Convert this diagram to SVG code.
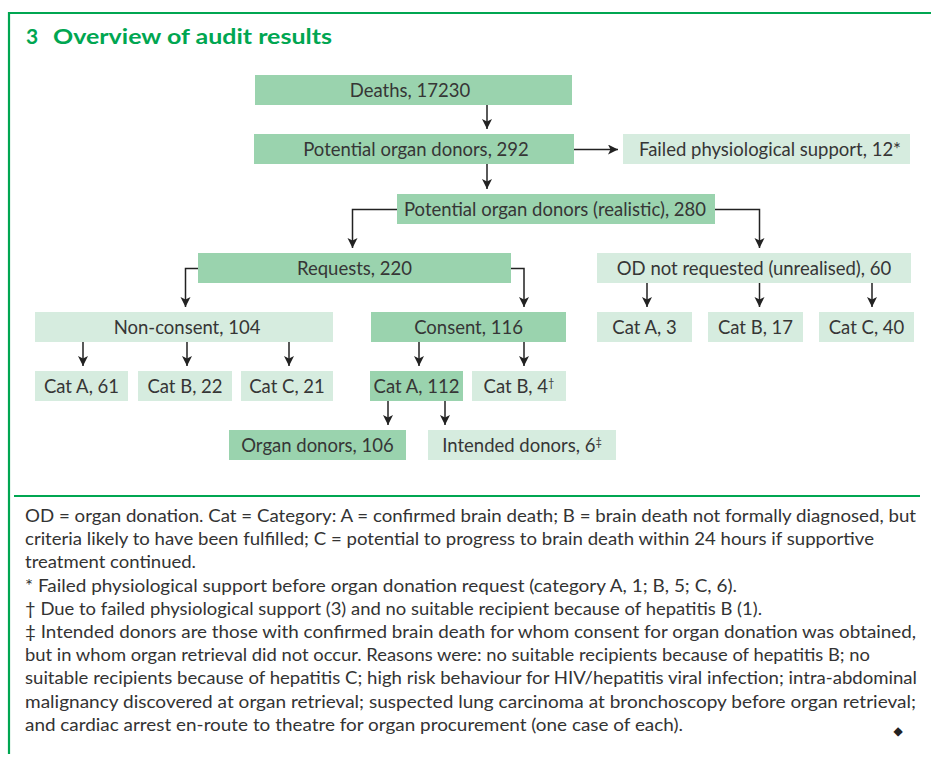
<svg xmlns="http://www.w3.org/2000/svg" width="931" height="758" viewBox="0 0 931 758">
<defs>
<style>
.dk{fill:#9ad3ae}
.lt{fill:#d6ecdf}
.lbl{font-family:Lato,"Open Sans","Liberation Sans",sans-serif;font-size:18.5px;fill:#363636;text-anchor:middle}
.sup{font-size:11px}
.fn{font-family:Lato,"Open Sans","Liberation Sans",sans-serif;font-size:16.5px;fill:#333}
.con{fill:none;stroke:#222;stroke-width:1.5}
.frame{fill:none;stroke:#00a651;stroke-width:2.2}
</style>
<marker id="ah" markerUnits="userSpaceOnUse" markerWidth="11" markerHeight="11" refX="10" refY="5" orient="auto">
<path d="M0,0 L10,5 L0,10 L2.5,5 Z" fill="#222"/>
</marker>
</defs>
<rect width="931" height="758" fill="#fff"/>
<path class="frame" d="M9,754 V13 H931"/>
<text x="26" y="44" font-family="Lato,'Open Sans','Liberation Sans',sans-serif" font-weight="bold" font-size="21" fill="#00a651">3</text>
<text x="53" y="44" font-family="Lato,'Open Sans','Liberation Sans',sans-serif" font-weight="bold" font-size="21" fill="#00a651" textLength="279" lengthAdjust="spacingAndGlyphs">Overview of audit results</text>

<g id="connectors">
<path class="con" marker-end="url(#ah)" d="M487,105 V129"/>
<path class="con" marker-end="url(#ah)" d="M574,149.5 H618"/>
<path class="con" marker-end="url(#ah)" d="M487,164 V189"/>
<path class="con" marker-end="url(#ah)" d="M397,209.5 H352.5 V248"/>
<path class="con" marker-end="url(#ah)" d="M715,209.5 H759.5 V248"/>
<path class="con" marker-end="url(#ah)" d="M198,268.5 H185.5 V307"/>
<path class="con" marker-end="url(#ah)" d="M511,268.5 H524 V307"/>
<path class="con" marker-end="url(#ah)" d="M647,283 V307"/>
<path class="con" marker-end="url(#ah)" d="M759.5,283 V307"/>
<path class="con" marker-end="url(#ah)" d="M872,283 V307"/>
<path class="con" marker-end="url(#ah)" d="M83,342 V366"/>
<path class="con" marker-end="url(#ah)" d="M187,342 V366"/>
<path class="con" marker-end="url(#ah)" d="M289,342 V366"/>
<path class="con" marker-end="url(#ah)" d="M419,342 V366"/>
<path class="con" marker-end="url(#ah)" d="M524,342 V366"/>
<path class="con" marker-end="url(#ah)" d="M388,401 V425"/>
<path class="con" marker-end="url(#ah)" d="M445,401 V425"/>
</g>

<g id="deaths"><rect class="dk" x="255" y="75" width="317" height="30"/><text class="lbl" x="410" y="96.5">Deaths, 17230</text></g>
<g id="potential"><rect class="dk" x="254" y="134" width="320" height="30"/><text class="lbl" x="416" y="156">Potential organ donors, 292</text></g>
<g id="failed"><rect class="lt" x="623" y="134" width="287" height="30"/><text class="lbl" x="770" y="156">Failed physiological support, 12*</text></g>
<g id="realistic"><rect class="dk" x="397" y="194" width="318" height="30"/><text class="lbl" x="555" y="216">Potential organ donors (realistic), 280</text></g>
<g id="requests"><rect class="dk" x="198" y="253" width="313" height="30"/><text class="lbl" x="354.5" y="275">Requests, 220</text></g>
<g id="notrequested"><rect class="lt" x="597" y="253" width="314" height="30"/><text class="lbl" x="754" y="275">OD not requested (unrealised), 60</text></g>
<g id="nr-cat-a"><rect class="lt" x="597" y="312" width="95" height="30"/><text class="lbl" x="644.5" y="334">Cat A, 3</text></g>
<g id="nr-cat-b"><rect class="lt" x="708" y="312" width="95" height="30"/><text class="lbl" x="755.5" y="334">Cat B, 17</text></g>
<g id="nr-cat-c"><rect class="lt" x="819" y="312" width="95" height="30"/><text class="lbl" x="866.5" y="334">Cat C, 40</text></g>
<g id="nonconsent"><rect class="lt" x="35" y="312" width="298" height="30"/><text class="lbl" x="187" y="334">Non-consent, 104</text></g>
<g id="consent"><rect class="dk" x="371" y="312" width="195" height="30"/><text class="lbl" x="468.5" y="334">Consent, 116</text></g>
<g id="nc-cat-a"><rect class="lt" x="35" y="371" width="93" height="30"/><text class="lbl" x="81.5" y="393">Cat A, 61</text></g>
<g id="nc-cat-b"><rect class="lt" x="138" y="371" width="94" height="30"/><text class="lbl" x="185" y="393">Cat B, 22</text></g>
<g id="nc-cat-c"><rect class="lt" x="241" y="371" width="92" height="30"/><text class="lbl" x="287" y="393">Cat C, 21</text></g>
<g id="c-cat-a"><rect class="dk" x="370" y="371" width="93" height="30"/><text class="lbl" x="416.5" y="393">Cat A, 112</text></g>
<g id="c-cat-b"><rect class="lt" x="472" y="371" width="94" height="30"/><text class="lbl" x="519" y="393">Cat B, 4<tspan class="sup" dy="-6">†</tspan></text></g>
<g id="organdonors"><rect class="dk" x="229" y="430" width="177" height="30"/><text class="lbl" x="317.5" y="452">Organ donors, 106</text></g>
<g id="intended"><rect class="lt" x="428" y="430" width="188" height="30"/><text class="lbl" x="522" y="452">Intended donors, 6<tspan class="sup" dy="-6">‡</tspan></text></g>

<line x1="14" y1="496" x2="920" y2="496" stroke="#00a651" stroke-width="2.2"/>
<g id="footnotes">
<text class="fn" x="25" y="522" textLength="891" lengthAdjust="spacingAndGlyphs">OD = organ donation. Cat = Category: A = confirmed brain death; B = brain death not formally diagnosed, but</text>
<text class="fn" x="25" y="545.2" textLength="849" lengthAdjust="spacingAndGlyphs">criteria likely to have been fulfilled; C = potential to progress to brain death within 24 hours if supportive</text>
<text class="fn" x="25" y="568.4" textLength="171" lengthAdjust="spacingAndGlyphs">treatment continued.</text>
<text class="fn" x="25" y="591.6" textLength="712" lengthAdjust="spacingAndGlyphs">* Failed physiological support before organ donation request (category A, 1; B, 5; C, 6).</text>
<text class="fn" x="25" y="614.8" textLength="737" lengthAdjust="spacingAndGlyphs">† Due to failed physiological support (3) and no suitable recipient because of hepatitis B (1).</text>
<text class="fn" x="25" y="638" textLength="891" lengthAdjust="spacingAndGlyphs">‡ Intended donors are those with confirmed brain death for whom consent for organ donation was obtained,</text>
<text class="fn" x="25" y="661.2" textLength="845" lengthAdjust="spacingAndGlyphs">but in whom organ retrieval did not occur. Reasons were: no suitable recipients because of hepatitis B; no</text>
<text class="fn" x="25" y="684.4" textLength="892" lengthAdjust="spacingAndGlyphs">suitable recipients because of hepatitis C; high risk behaviour for HIV/hepatitis viral infection; intra-abdominal</text>
<text class="fn" x="25" y="707.6" textLength="891" lengthAdjust="spacingAndGlyphs">malignancy discovered at organ retrieval; suspected lung carcinoma at bronchoscopy before organ retrieval;</text>
<text class="fn" x="25" y="730.8" textLength="658" lengthAdjust="spacingAndGlyphs">and cardiac arrest en-route to theatre for organ procurement (one case of each).</text>
<text x="898" y="735" font-family="'DejaVu Sans',sans-serif" font-size="12" fill="#222" text-anchor="middle">◆</text>
</g>
</svg>
